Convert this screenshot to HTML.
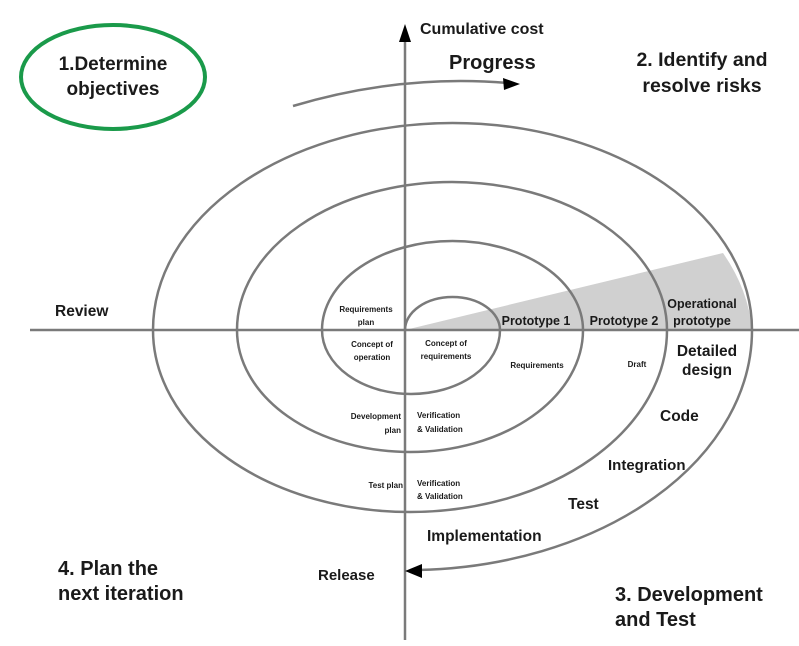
<!DOCTYPE html>
<html><head><meta charset="utf-8"><style>
html,body{margin:0;padding:0;background:#fff;}
svg{display:block;}
text{font-family:"Liberation Sans",sans-serif;fill:#1a1a1a;}
</style></head><body>
<svg width="799" height="646" viewBox="0 0 799 646" xmlns="http://www.w3.org/2000/svg">
<path d="M405,330 L723,253 A299,207 0 0 1 752,330 Z" fill="#d0d0d0"/>
<g fill="none" stroke="#7a7a7a" stroke-width="2.5">
<line x1="30" y1="330" x2="799" y2="330"/>
<line x1="405" y1="38" x2="405" y2="640"/>
<path d="M405,330 A47.5,33 0 0 1 500,330"/>
<path d="M500,330 A89,64 0 0 1 322,330"/>
<path d="M322,330 A130.5,89 0 0 1 583,330"/>
<path d="M583,330 A173,122 0 0 1 237,330"/>
<path d="M237,330 A215,148 0 0 1 667,330"/>
<path d="M667,330 A257,182 0 0 1 153,330"/>
<path d="M153,330 A299.5,207 0 0 1 752,330"/>
<path d="M752,330 A344,240 0 0 1 418,570"/>
<path d="M293,106 Q400,74 508,83"/>
</g>
<polygon points="405,24 399,42 411,42" fill="#000"/>
<polygon points="520,84 503,78 504,90" fill="#000"/>
<polygon points="405,571 422,564 422,578" fill="#000"/>
<ellipse cx="113" cy="77" rx="92" ry="52" fill="none" stroke="#1a9a4a" stroke-width="4"/>
<g font-weight="bold">
<text x="420" y="34" font-size="16">Cumulative cost</text>
<text x="449" y="69" font-size="20">Progress</text>
<text x="113" y="70" font-size="19" text-anchor="middle">1.Determine</text>
<text x="113" y="95" font-size="19" text-anchor="middle">objectives</text>
<text x="702" y="66" font-size="19.5" text-anchor="middle">2. Identify and</text>
<text x="702" y="92" font-size="19.5" text-anchor="middle">resolve risks</text>
<text x="55" y="316" font-size="15.5">Review</text>
<text x="58" y="575" font-size="20">4. Plan the</text>
<text x="58" y="600" font-size="20">next iteration</text>
<text x="615" y="601" font-size="20">3. Development</text>
<text x="615" y="626" font-size="20">and Test</text>
<text x="318" y="580" font-size="15">Release</text>
<text x="427" y="541" font-size="15.5">Implementation</text>
<text x="568" y="509" font-size="15.5">Test</text>
<text x="608" y="470" font-size="15">Integration</text>
<text x="660" y="421" font-size="15.5">Code</text>
<text x="707" y="356" font-size="15.5" text-anchor="middle">Detailed</text>
<text x="707" y="375" font-size="15.5" text-anchor="middle">design</text>
<text x="702" y="308" font-size="12.5" text-anchor="middle">Operational</text>
<text x="702" y="325" font-size="12.5" text-anchor="middle">prototype</text>
<text x="624" y="325" font-size="12.5" text-anchor="middle">Prototype 2</text>
<text x="536" y="325" font-size="12.5" text-anchor="middle">Prototype 1</text>
<g font-size="8">
<text x="366" y="312" text-anchor="middle">Requirements</text>
<text x="366" y="325" text-anchor="middle">plan</text>
<text x="372" y="347" text-anchor="middle">Concept of</text>
<text x="372" y="360" text-anchor="middle">operation</text>
<text x="446" y="346" text-anchor="middle">Concept of</text>
<text x="446" y="359" text-anchor="middle">requirements</text>
<text x="537" y="368" text-anchor="middle">Requirements</text>
<text x="637" y="367" text-anchor="middle">Draft</text>
<text x="401" y="419" text-anchor="end">Development</text>
<text x="401" y="433" text-anchor="end">plan</text>
<text x="417" y="418">Verification</text>
<text x="417" y="432">&amp; Validation</text>
<text x="403" y="488" text-anchor="end">Test plan</text>
<text x="417" y="486">Verification</text>
<text x="417" y="499">&amp; Validation</text>
</g>
</g>
</svg>
</body></html>
